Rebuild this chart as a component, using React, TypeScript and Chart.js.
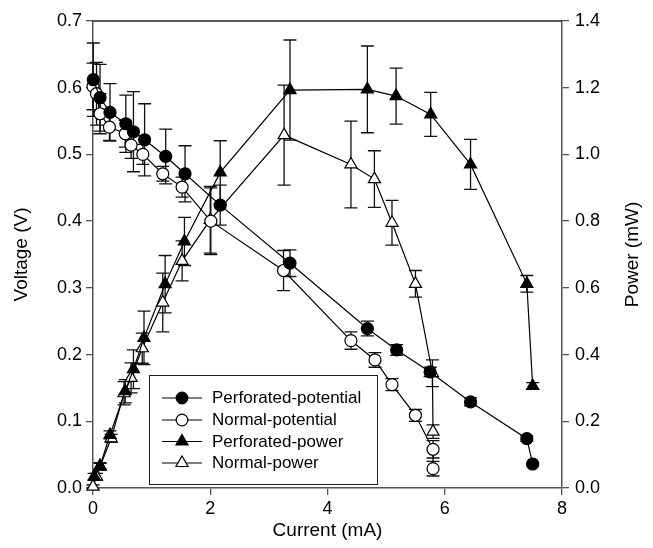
import React, { useEffect, useRef } from 'react';
import { Chart, registerables } from 'chart.js';
Chart.register(...registerables);

// ---------- data ----------
const perfPotX = [0.005, 0.12, 0.29, 0.56, 0.69, 0.88, 1.24, 1.57, 2.17, 3.36, 4.68, 5.18, 5.75, 6.44, 7.40, 7.50];
const perfPotY = [0.612, 0.585, 0.563, 0.546, 0.534, 0.522, 0.497, 0.471, 0.424, 0.337, 0.239, 0.207, 0.174, 0.129, 0.074, 0.036];
const perfPotErr = [0.055, 0.05, 0.043, 0.043, 0.06, 0.054, 0.041, 0.042, 0.03, 0.02, 0.011, 0.008, 0.007, 0.006, 0.004, 0.002];

const normPotX = [0.0, 0.06, 0.12, 0.28, 0.55, 0.65, 0.85, 1.19, 1.52, 2.01, 3.25, 4.40, 4.81, 5.10, 5.50, 5.80, 5.80];
const normPotY = [0.602, 0.591, 0.561, 0.541, 0.531, 0.514, 0.50, 0.471, 0.451, 0.40, 0.326, 0.221, 0.192, 0.155, 0.109, 0.058, 0.029];
const normPotErr = [0.035, 0.047, 0.03, 0.02, 0.02, 0.02, 0.015, 0.011, 0.015, 0.05, 0.03, 0.013, 0.011, 0.009, 0.009, 0.013, 0.011];

const perfPowX = [0.02, 0.12, 0.29, 0.55, 0.69, 0.87, 1.23, 1.56, 2.17, 3.36, 4.68, 5.17, 5.76, 6.44, 7.40, 7.50];
const perfPowY = [0.034, 0.066, 0.159, 0.29, 0.356, 0.45, 0.611, 0.739, 0.946, 1.193, 1.195, 1.175, 1.12, 0.97, 0.612, 0.306];
const perfPowErr = [0.01, 0.01, 0.012, 0.035, 0.058, 0.08, 0.086, 0.072, 0.095, 0.15, 0.13, 0.084, 0.066, 0.075, 0.025, 0.01];

const normPowX = [0.0, 0.06, 0.12, 0.31, 0.53, 0.65, 0.84, 1.19, 1.52, 2.0, 3.26, 4.40, 4.80, 5.10, 5.50, 5.79, 5.80];
const normPowY = [0.004, 0.034, 0.064, 0.149, 0.284, 0.33, 0.419, 0.556, 0.681, 0.804, 1.058, 0.97, 0.926, 0.795, 0.612, 0.344, 0.169];
const normPowErr = [0.005, 0.01, 0.01, 0.012, 0.035, 0.045, 0.045, 0.088, 0.06, 0.1, 0.15, 0.13, 0.085, 0.067, 0.04, 0.04, 0.02];

const seriesNames = ['Perforated-potential', 'Normal-potential', 'Perforated-power', 'Normal-power'];
const xTicks = [0, 2, 4, 6, 8];
const xTitle = 'Current (mA)';
const yTitle = 'Voltage (V)';
const y1Title = 'Power (mW)';

const FONT = '"Liberation Sans", Arial, Helvetica, sans-serif';
const AXIS_COLOR = '#555';

const toPts = (xs: number[], ys: number[]) => xs.map((x, i) => ({ x, y: ys[i] }));

const errorBarPlugin = {
  id: 'errorBars',
  beforeDatasetsDraw(chart: any) {
    const ctx = chart.ctx;
    const xs = chart.scales.x;
    chart.data.datasets.forEach((ds: any) => {
      const errs: number[] = ds.errs;
      if (!errs) return;
      const ys = chart.scales[ds.yAxisID];
      ctx.save();
      ctx.strokeStyle = '#111';
      ctx.lineWidth = 1.3;
      ds.data.forEach((p: any, j: number) => {
        const e = errs[j];
        if (!e) return;
        const px = xs.getPixelForValue(p.x);
        const yTop = ys.getPixelForValue(p.y + e);
        const yBot = ys.getPixelForValue(p.y - e);
        ctx.beginPath();
        ctx.moveTo(px, yTop);
        ctx.lineTo(px, yBot);
        ctx.moveTo(px - 6.5, yTop);
        ctx.lineTo(px + 6.5, yTop);
        ctx.moveTo(px - 6.5, yBot);
        ctx.lineTo(px + 6.5, yBot);
        ctx.stroke();
      });
      ctx.restore();
    });
  },
};

const framePlugin = {
  id: 'frameAndTitles',
  afterDraw(chart: any) {
    const ctx = chart.ctx;
    const { left, right, top, bottom } = chart.chartArea;
    ctx.save();
    // top border
    ctx.strokeStyle = '#222';
    ctx.lineWidth = 1.5;
    ctx.beginPath();
    ctx.moveTo(left, top);
    ctx.lineTo(right, top);
    ctx.stroke();

    // axis titles
    ctx.fillStyle = '#000';
    ctx.font = `19px ${FONT}`;
    ctx.textAlign = 'center';
    ctx.textBaseline = 'middle';
    ctx.fillText(xTitle, (left + right) / 2, 531);
    ctx.save();
    ctx.translate(22, (top + bottom) / 2);
    ctx.rotate(-Math.PI / 2);
    ctx.fillText(yTitle, 0, 0);
    ctx.restore();
    ctx.save();
    ctx.translate(633, (top + bottom) / 2);
    ctx.rotate(-Math.PI / 2);
    ctx.fillText(y1Title, 0, 0);
    ctx.restore();

    // legend
    const bx = 149, by = 375, bw = 228, bh = 109;
    ctx.fillStyle = '#fff';
    ctx.fillRect(bx, by, bw, bh);
    ctx.strokeStyle = '#222';
    ctx.lineWidth = 1;
    ctx.strokeRect(bx + 0.5, by + 0.5, bw, bh);
    const rows = [398, 420, 441.5, 463];
    chart.data.datasets.forEach((ds: any, i: number) => {
      const y = rows[i];
      ctx.strokeStyle = '#000';
      ctx.lineWidth = 1.2;
      ctx.beginPath();
      ctx.moveTo(162, y);
      ctx.lineTo(202, y);
      ctx.stroke();
      ctx.fillStyle = ds.pointBackgroundColor;
      ctx.beginPath();
      if (ds.pointStyle === 'circle') {
        ctx.arc(182, y, 5.8, 0, Math.PI * 2);
      } else {
        const r = 7;
        ctx.moveTo(182, y - r);
        ctx.lineTo(182 + r * Math.sin((2 * Math.PI) / 3), y - r * Math.cos((2 * Math.PI) / 3));
        ctx.lineTo(182 + r * Math.sin((4 * Math.PI) / 3), y - r * Math.cos((4 * Math.PI) / 3));
        ctx.closePath();
      }
      ctx.fill();
      ctx.stroke();
      ctx.fillStyle = '#000';
      ctx.font = `17px ${FONT}`;
      ctx.textAlign = 'left';
      ctx.textBaseline = 'middle';
      ctx.fillText(ds.label, 212, y + 0.5);
    });
    ctx.restore();
  },
};

export default function App() {
  const ref = useRef<HTMLCanvasElement | null>(null);

  useEffect(() => {
    if (!ref.current) return;
    const common = {
      showLine: true,
      borderColor: '#000',
      borderWidth: 1.2,
      pointBorderColor: '#000',
      pointBorderWidth: 1.2,
      clip: false as any,
    };
    const chart = new Chart(ref.current, {
      type: 'scatter',
      data: {
        datasets: [
          {
            ...common,
            label: seriesNames[0],
            data: toPts(perfPotX, perfPotY),
            errs: perfPotErr,
            yAxisID: 'y',
            pointStyle: 'circle',
            pointRadius: 6,
            pointBackgroundColor: '#000',
          } as any,
          {
            ...common,
            label: seriesNames[1],
            data: toPts(normPotX, normPotY),
            errs: normPotErr,
            yAxisID: 'y',
            pointStyle: 'circle',
            pointRadius: 6,
            pointBackgroundColor: '#fff',
          } as any,
          {
            ...common,
            label: seriesNames[2],
            data: toPts(perfPowX, perfPowY),
            errs: perfPowErr,
            yAxisID: 'y1',
            pointStyle: 'triangle',
            pointRadius: 7,
            pointBackgroundColor: '#000',
          } as any,
          {
            ...common,
            label: seriesNames[3],
            data: toPts(normPowX, normPowY),
            errs: normPowErr,
            yAxisID: 'y1',
            pointStyle: 'triangle',
            pointRadius: 7,
            pointBackgroundColor: '#fff',
          } as any,
        ],
      },
      options: {
        animation: false,
        responsive: false,
        devicePixelRatio: 1,
        layout: { padding: { top: 21, left: 0, right: 0, bottom: 0 } },
        plugins: {
          legend: { display: false },
          tooltip: { enabled: false },
        },
        scales: {
          x: {
            type: 'linear',
            min: 0,
            max: 8,
            afterFit: (s: any) => { s.height = 60; },
            afterBuildTicks: (s: any) => { s.ticks = xTicks.map((v) => ({ value: v })); },
            grid: { drawOnChartArea: false, drawTicks: true, tickLength: 7, tickColor: AXIS_COLOR, lineWidth: 1.3 },
            border: { display: true, color: AXIS_COLOR, width: 1.5 },
            ticks: { color: '#000', font: { family: FONT, size: 18 }, padding: 3, maxRotation: 0, callback: (v: any) => String(v) },
          },
          y: {
            type: 'linear',
            position: 'left',
            min: 0,
            max: 0.7,
            afterFit: (s: any) => { s.width = 93; },
            grid: { drawOnChartArea: false, drawTicks: true, tickLength: 7, tickColor: AXIS_COLOR, lineWidth: 1.3 },
            border: { display: true, color: AXIS_COLOR, width: 1.5 },
            ticks: { stepSize: 0.1, color: '#000', font: { family: FONT, size: 18 }, padding: 4, callback: (v: any) => Number(v).toFixed(1) },
          },
          y1: {
            type: 'linear',
            position: 'right',
            min: 0,
            max: 1.4,
            afterFit: (s: any) => { s.width = 91; },
            grid: { drawOnChartArea: false, drawTicks: true, tickLength: 7, tickColor: AXIS_COLOR, lineWidth: 1.3 },
            border: { display: true, color: AXIS_COLOR, width: 1.5 },
            ticks: { stepSize: 0.2, color: '#000', font: { family: FONT, size: 18 }, padding: 6, callback: (v: any) => Number(v).toFixed(1) },
          },
        },
      } as any,
      plugins: [errorBarPlugin, framePlugin],
    });
    return () => chart.destroy();
  }, []);

  return (
    <div style={{ position: 'absolute', left: 0, top: 0, width: 653, height: 548, background: '#fff' }}>
      <canvas ref={ref} width={653} height={548} style={{ display: 'block', width: 653, height: 548 }} />
    </div>
  );
}
